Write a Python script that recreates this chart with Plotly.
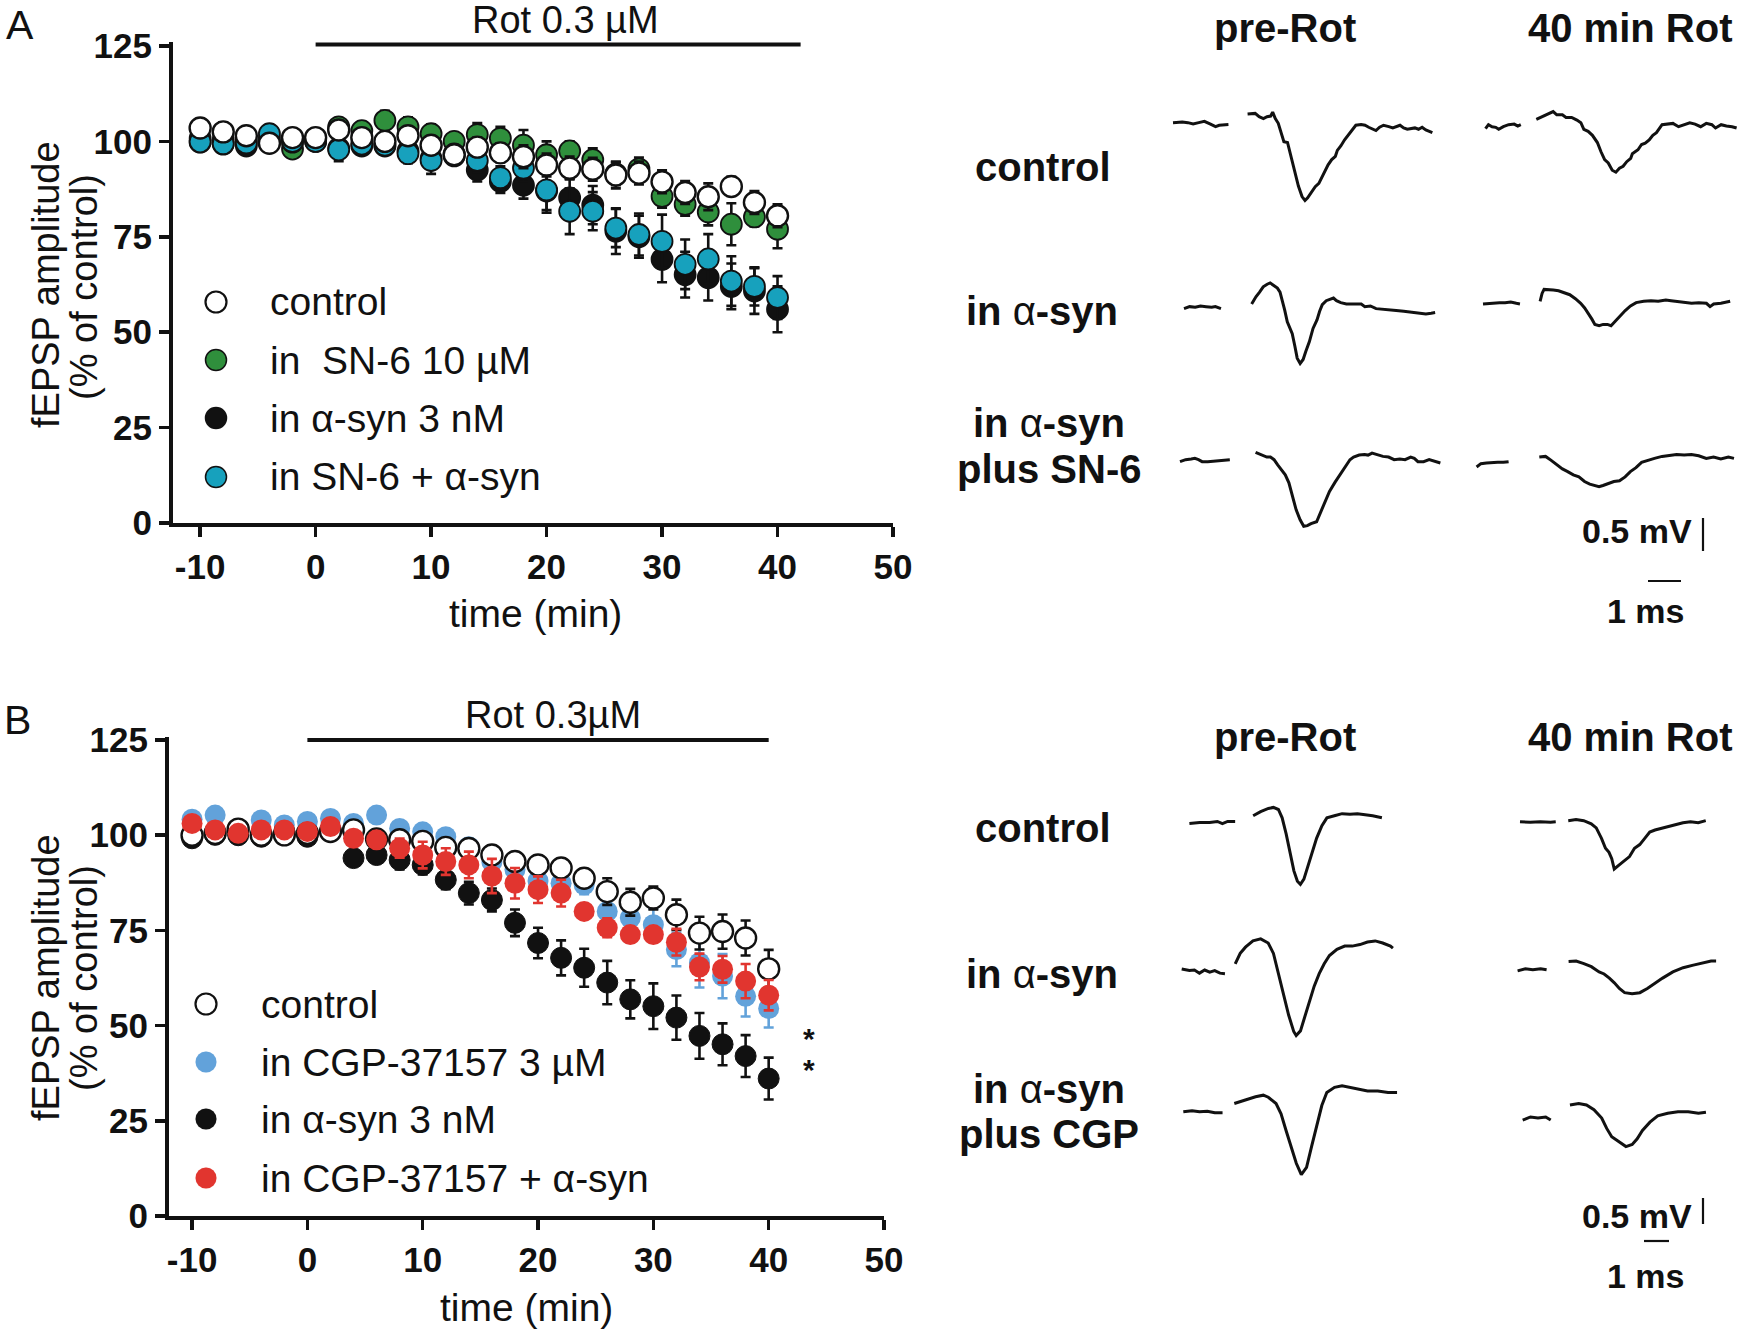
import plotly.graph_objects as go

W, H = 1738, 1330
FONT = "Liberation Sans, Arial, sans-serif"

# ---------------- time-course data ----------------
time_min = [-10, -8, -6, -4, -2, 0, 2, 4, 6, 8, 10, 12, 14, 16, 18, 20, 22, 24, 26, 28, 30, 32, 34, 36, 38, 40]

# Panel A
a_control = [103.5, 102.5, 101.5, 99.5, 101, 101, 103, 101, 100, 101.5, 99, 96.5, 98.5, 97, 96, 93.8, 93, 92.7, 91.2, 91.7, 89.4, 86.6, 85.5, 88.2, 84, 80.5]
a_control_err = [2, 2.5, 1.5, 1, 1, 1, 2, 2, 2, 2, 2, 1.5, 2.5, 2.5, 3, 3, 3, 3, 3.5, 3, 3, 3, 3.5, 2.5, 3, 3]
a_sn6 = [100.8, 100.5, 100.3, 101, 98, 100.5, 103.8, 102.8, 105.5, 103.8, 102, 100, 101.8, 100.8, 99, 96.5, 97.5, 95.2, 91.5, 92.8, 85.6, 83.5, 81.5, 78.3, 80.2, 77]
a_sn6_err = [1.5, 1.5, 1.5, 1.5, 2, 1.5, 2, 2, 2.5, 2.5, 2.5, 2, 3, 3, 4, 3.5, 2.5, 3, 3, 3, 3, 3, 3.5, 5.5, 2.5, 5]
a_asyn = [99.8, 99.3, 98.8, 100, 99.8, 100, 98.2, 98.8, 98.8, 97.5, 95.5, 96.2, 92.5, 89.5, 88.5, 87, 85.2, 83.3, 76.5, 75, 69.1, 65.1, 64.3, 62, 60.8, 56]
a_asyn_err = [1.5, 1.5, 1.5, 1, 1, 1, 2, 2, 1.5, 2, 2, 2, 3, 3, 3.5, 5, 5, 5, 6, 5.5, 6, 6, 6, 6, 6, 6]
a_sn6_asyn = [99.9, 99.4, 99.6, 102, 100, 100, 97.8, 99.3, 99, 96.8, 95, 96.7, 95, 90.5, 93, 87.3, 81.7, 81.7, 77.3, 75.6, 73.8, 67.8, 69.2, 63.4, 62, 59.1]
a_sn6_asyn_err = [1.5, 1.5, 1.5, 1.5, 1, 1, 3, 2.5, 2, 2.5, 3.5, 2, 3, 3, 3.5, 6, 6, 5, 5, 5.5, 7, 6.5, 6.5, 6.5, 5, 5.6]

# Panel B
b_control = [100, 100.5, 101.6, 100, 100.1, 100.5, 101, 101.4, 99, 98.8, 98.4, 96.8, 96.5, 94.8, 93.1, 92.2, 91.4, 88.7, 85.2, 82.4, 83.5, 79.1, 74.3, 74.7, 73, 64.9]
b_control_err = [1, 1, 1, 1, 1, 1, 1, 1.5, 1.5, 1.5, 1.5, 1.5, 2, 2, 2, 2, 2.3, 2, 3.5, 3.5, 3, 4, 4.3, 4.5, 4.6, 5]
b_cgp = [104.2, 105.3, 100, 104, 102.7, 103.6, 104.4, 103.1, 105.3, 101.8, 100.9, 99.6, 97, 93, 91, 88, 87.4, 87, 80, 78.3, 76.5, 70, 66.5, 63, 57.7, 54.5]
b_cgp_err = [1, 1, 1, 1, 1, 1, 1, 1, 1, 1.5, 1.5, 1.5, 2, 3.5, 3, 3, 3, 2.5, 3, 3, 4.3, 4.4, 6.5, 5.8, 5.3, 5]
b_asyn = [99.2, 100.1, 100, 99.6, 101, 99.6, 101, 94, 94.8, 93.5, 92.2, 88.3, 84.8, 83, 77, 71.7, 67.8, 65.2, 61.3, 56.9, 55.1, 52.1, 47.3, 45.1, 42, 36.1]
b_asyn_err = [1, 1, 1, 1, 1, 1, 1, 1.5, 1.5, 2.5, 2.5, 2.5, 3, 3, 3.5, 4, 4.6, 5, 5.7, 5, 6, 5.8, 6, 5.5, 5.5, 5.5]
b_cgp_asyn = [103.1, 101.4, 100.5, 101.4, 101.4, 101, 102.3, 99.2, 98.8, 96.6, 94.8, 93.1, 92.2, 89.3, 87.4, 85.7, 84.8, 80, 75.7, 73.9, 73.9, 71.9, 65.4, 64.8, 61.7, 58]
b_cgp_asyn_err = [1, 1, 1, 1, 1, 1, 1, 1, 1, 2.5, 3.5, 3.5, 3.5, 4.5, 4, 3.5, 3.5, 1, 2.5, 1, 1, 3.5, 3.5, 3.5, 4.5, 4]

y_ticks = [0, 25, 50, 75, 100, 125]
y_tick_text = ["0", "25", "50", "75", "100", "125"]
x_ticks = [-10, 0, 10, 20, 30, 40, 50]
x_tick_text = ["-10", "0", "10", "20", "30", "40", "50"]
rot_bar_a = [0, 42]
rot_bar_b = [0, 40]
sig_time = 43.5
sig_center = 44.7

# ---------------- example fEPSP traces (ms, mV) ----------------
# each trace: pre-artifact baseline (t1, v1) and post-artifact response (t2, v2)
A_ctrl_pre_t1 = [0, 0.28, 0.45, 0.61, 0.78, 0.95, 1.12, 1.29, 1.4, 1.57, 1.68]
A_ctrl_pre_v1 = [0.01, 0.02, 0.01, -0.01, 0.01, 0.03, -0.01, -0.05, -0.03, -0.02, -0.02]
A_ctrl_pre_t2 = [2.26, 2.49, 2.61, 2.74, 2.85, 2.96, 3.02, 3.10, 3.19, 3.30, 3.36, 3.47, 3.58, 3.69, 3.80, 3.91, 4.00, 4.08, 4.19, 4.31, 4.42, 4.53, 4.62, 4.70, 4.81, 4.92, 4.98, 5.09, 5.20, 5.31, 5.43, 5.54, 5.70, 5.82, 5.93, 6.04, 6.15, 6.26, 6.38, 6.54, 6.66, 6.88, 6.99, 7.10, 7.33, 7.44, 7.55, 7.66, 7.86]
A_ctrl_pre_v2 = [0.14, 0.15, 0.10, 0.07, 0.10, 0.11, 0.17, 0.07, 0.0, -0.20, -0.28, -0.29, -0.50, -0.73, -0.95, -1.11, -1.17, -1.13, -1.04, -0.96, -0.91, -0.80, -0.70, -0.63, -0.55, -0.50, -0.41, -0.34, -0.25, -0.18, -0.10, -0.03, -0.02, -0.03, -0.06, -0.09, -0.11, -0.06, -0.03, -0.05, -0.07, -0.03, -0.07, -0.09, -0.07, -0.09, -0.06, -0.10, -0.14]

A_ctrl_40_t1 = [0, 0.09, 0.2, 0.31, 0.40, 0.54, 0.70, 0.87, 0.98, 1.07]
A_ctrl_40_v1 = [-0.03, 0.03, 0, -0.01, -0.04, 0, 0.03, 0.04, 0.01, 0.03]
A_ctrl_40_t2 = [1.54, 1.71, 1.88, 2.05, 2.16, 2.33, 2.44, 2.61, 2.77, 2.89, 2.98, 3.11, 3.24, 3.39, 3.50, 3.61, 3.72, 3.84, 3.95, 4.06, 4.17, 4.28, 4.40, 4.45, 4.62, 4.73, 4.84, 4.96, 5.07, 5.18, 5.35, 5.51, 5.68, 5.85, 6.02, 6.19, 6.35, 6.52, 6.69, 6.86, 6.97, 7.14, 7.30, 7.47, 7.61]
A_ctrl_40_v2 = [0.11, 0.15, 0.20, 0.23, 0.18, 0.18, 0.14, 0.14, 0.10, 0.06, -0.04, -0.07, -0.13, -0.24, -0.38, -0.50, -0.55, -0.66, -0.69, -0.63, -0.60, -0.53, -0.48, -0.41, -0.35, -0.27, -0.25, -0.20, -0.13, -0.09, 0.03, 0.04, 0.05, 0, 0.03, 0.06, 0.04, 0, 0.05, 0.03, -0.02, 0.03, 0.01, 0, -0.02]

A_asyn_pre_t1 = [0, 0.17, 0.34, 0.50, 0.67, 0.84, 0.95, 1.12]
A_asyn_pre_v1 = [-0.02, 0.01, 0, 0.02, 0.01, 0, 0.01, -0.02]
A_asyn_pre_t2 = [2.05, 2.18, 2.29, 2.40, 2.52, 2.61, 2.72, 2.83, 2.91, 2.96, 3.05, 3.13, 3.21, 3.28, 3.36, 3.43, 3.52, 3.61, 3.69, 3.80, 3.91, 4.03, 4.11, 4.19, 4.31, 4.42, 4.53, 4.62, 4.75, 4.92, 5.09, 5.26, 5.37, 5.48, 5.65, 5.82, 5.98, 6.21, 6.43, 6.66, 6.88, 7.10, 7.33, 7.49, 7.61]
A_asyn_pre_v2 = [0.05, 0.16, 0.23, 0.31, 0.35, 0.37, 0.33, 0.29, 0.23, 0.14, -0.04, -0.22, -0.32, -0.40, -0.59, -0.77, -0.85, -0.79, -0.67, -0.52, -0.32, -0.19, -0.06, 0.04, 0.10, 0.12, 0.14, 0.10, 0.07, 0.05, 0.05, 0.04, 0.05, 0.01, 0.02, -0.02, -0.03, -0.04, -0.05, -0.06, -0.07, -0.08, -0.10, -0.09, -0.08]

A_asyn_40_t1 = [0, 0.17, 0.34, 0.50, 0.67, 0.84, 1.01, 1.12]
A_asyn_40_v1 = [-0.01, 0, 0, 0.01, 0.01, 0.02, 0, -0.01]
A_asyn_40_t2 = [1.73, 1.79, 1.85, 1.96, 2.13, 2.29, 2.46, 2.63, 2.80, 2.96, 3.08, 3.19, 3.30, 3.39, 3.52, 3.64, 3.77, 3.88, 3.99, 4.14, 4.31, 4.47, 4.64, 4.87, 5.09, 5.31, 5.54, 5.70, 5.87, 6.10, 6.32, 6.54, 6.77, 6.88, 6.99, 7.21, 7.49]
A_asyn_40_v2 = [0.03, 0.15, 0.21, 0.21, 0.20, 0.19, 0.16, 0.13, 0.07, 0, -0.07, -0.15, -0.24, -0.32, -0.34, -0.32, -0.32, -0.34, -0.28, -0.19, -0.11, -0.04, 0.01, 0.03, 0.04, 0.03, 0.05, 0.04, 0.03, 0.01, 0, 0.01, 0, -0.05, -0.01, 0, 0.03]

A_sn6_pre_t1 = [0, 0.17, 0.34, 0.45, 0.56, 0.67, 0.84, 1.01, 1.17, 1.34, 1.51]
A_sn6_pre_v1 = [-0.01, 0.02, 0.03, 0.04, 0.02, -0.01, -0.01, 0, 0.01, 0.02, 0.02]
A_sn6_pre_t2 = [2.29, 2.46, 2.63, 2.74, 2.85, 2.96, 3.08, 3.19, 3.30, 3.41, 3.52, 3.64, 3.75, 3.86, 3.97, 4.14, 4.25, 4.36, 4.53, 4.70, 4.87, 5.03, 5.15, 5.26, 5.43, 5.59, 5.70, 5.82, 5.98, 6.15, 6.32, 6.49, 6.66, 6.82, 6.99, 7.10, 7.21, 7.38, 7.55, 7.72, 7.89]
A_sn6_pre_v2 = [0.13, 0.09, 0.06, 0.06, 0.02, -0.06, -0.14, -0.21, -0.33, -0.54, -0.74, -0.89, -0.99, -0.98, -0.95, -0.92, -0.79, -0.64, -0.46, -0.32, -0.19, -0.06, 0.02, 0.06, 0.09, 0.10, 0.09, 0.12, 0.09, 0.07, 0.06, 0.02, 0.03, 0.02, 0.06, 0.04, -0.01, -0.01, 0.02, -0.01, -0.03]

A_sn6_40_t1 = [0, 0.13, 0.30, 0.47, 0.64, 0.81, 0.97]
A_sn6_40_v1 = [-0.03, 0.02, 0.03, 0.04, 0.04, 0.04, 0.05]
A_sn6_40_t2 = [1.90, 2.09, 2.26, 2.43, 2.60, 2.76, 2.93, 3.10, 3.27, 3.43, 3.60, 3.71, 3.83, 3.99, 4.16, 4.33, 4.50, 4.66, 4.83, 5.00, 5.17, 5.39, 5.62, 5.84, 6.06, 6.29, 6.51, 6.73, 6.96, 7.18, 7.40, 7.63, 7.80]
A_sn6_40_v2 = [0.12, 0.13, 0.07, 0, -0.06, -0.10, -0.15, -0.18, -0.25, -0.29, -0.32, -0.33, -0.31, -0.28, -0.25, -0.24, -0.18, -0.10, -0.04, 0.04, 0.07, 0.10, 0.13, 0.15, 0.16, 0.15, 0.16, 0.14, 0.10, 0.12, 0.09, 0.12, 0.10]

B_ctrl_pre_t1 = [0, 0.41, 0.81, 1.12, 1.32, 1.53, 1.63, 1.83]
B_ctrl_pre_v1 = [-0.02, 0, 0, 0.02, -0.02, 0.02, 0.02, 0.02]
B_ctrl_pre_t2 = [2.55, 2.85, 3.16, 3.36, 3.56, 3.71, 3.87, 4.03, 4.18, 4.32, 4.44, 4.58, 4.73, 4.89, 5.09, 5.30, 5.50, 5.80, 6.11, 6.42, 6.72, 7.03, 7.33, 7.70]
B_ctrl_pre_v2 = [0.13, 0.21, 0.27, 0.29, 0.25, 0.09, -0.22, -0.62, -0.93, -1.13, -1.19, -1.09, -0.85, -0.58, -0.30, -0.06, 0.09, 0.13, 0.17, 0.16, 0.17, 0.15, 0.13, 0.09]

B_ctrl_40_t1 = [0, 0.41, 0.81, 1.22, 1.43]
B_ctrl_40_v1 = [0, -0.01, 0, -0.01, 0]
B_ctrl_40_t2 = [1.93, 2.24, 2.55, 2.85, 3.05, 3.26, 3.42, 3.56, 3.67, 3.77, 3.97, 4.18, 4.38, 4.58, 4.79, 4.99, 5.19, 5.40, 5.70, 6.11, 6.52, 6.82, 7.13, 7.43]
B_ctrl_40_v2 = [0.02, 0.04, 0.02, -0.04, -0.12, -0.32, -0.51, -0.59, -0.71, -0.91, -0.83, -0.75, -0.67, -0.51, -0.44, -0.32, -0.20, -0.16, -0.12, -0.06, -0.02, 0, -0.02, 0.02]

B_asyn_pre_t1 = [0, 0.31, 0.51, 0.71, 0.92, 1.12, 1.32, 1.53, 1.73]
B_asyn_pre_v1 = [0, -0.03, -0.02, -0.08, -0.02, -0.06, -0.03, -0.08, -0.09]
B_asyn_pre_t2 = [2.14, 2.34, 2.55, 2.85, 3.16, 3.46, 3.67, 3.87, 4.07, 4.28, 4.48, 4.58, 4.75, 4.89, 5.09, 5.30, 5.50, 5.70, 5.91, 6.21, 6.52, 6.82, 7.13, 7.43, 7.74, 8.04, 8.35, 8.45]
B_asyn_pre_v2 = [0.10, 0.30, 0.42, 0.54, 0.58, 0.50, 0.30, -0.09, -0.49, -0.89, -1.20, -1.28, -1.19, -0.97, -0.65, -0.33, -0.09, 0.10, 0.26, 0.38, 0.44, 0.44, 0.47, 0.52, 0.54, 0.50, 0.44, 0.40]

B_asyn_40_t1 = [0, 0.31, 0.61, 0.92, 1.16]
B_asyn_40_v1 = [-0.02, 0.02, 0, 0.02, 0]
B_asyn_40_t2 = [2.04, 2.34, 2.65, 2.95, 3.26, 3.46, 3.67, 3.87, 4.07, 4.28, 4.58, 4.89, 5.19, 5.50, 5.80, 6.21, 6.62, 7.03, 7.43, 7.74, 7.94]
B_asyn_40_v2 = [0.16, 0.17, 0.12, 0.06, -0.04, -0.08, -0.16, -0.25, -0.36, -0.44, -0.46, -0.44, -0.36, -0.25, -0.16, -0.04, 0.04, 0.09, 0.14, 0.17, 0.17]

B_cgp_pre_t1 = [0, 0.35, 0.65, 0.96, 1.26, 1.57]
B_cgp_pre_v1 = [0, 0.02, 0, 0.01, -0.02, -0.02]
B_cgp_pre_t2 = [2.04, 2.28, 2.59, 2.89, 3.20, 3.40, 3.71, 3.91, 4.11, 4.32, 4.52, 4.72, 4.93, 5.13, 5.34, 5.54, 5.74, 6.05, 6.35, 6.66, 6.97, 7.37, 7.78, 8.19, 8.55]
B_cgp_pre_v2 = [0.16, 0.20, 0.24, 0.29, 0.32, 0.28, 0.16, -0.04, -0.36, -0.67, -0.99, -1.21, -1.07, -0.67, -0.28, 0.12, 0.37, 0.47, 0.50, 0.47, 0.44, 0.40, 0.40, 0.37, 0.37]

B_cgp_40_t1 = [0, 0.31, 0.61, 0.92, 1.12]
B_cgp_40_v1 = [-0.04, 0.02, 0, 0.02, -0.04]
B_cgp_40_t2 = [1.89, 2.24, 2.55, 2.85, 3.16, 3.36, 3.56, 3.87, 4.13, 4.38, 4.58, 4.79, 5.09, 5.40, 5.80, 6.21, 6.62, 7.03, 7.33]
B_cgp_40_v2 = [0.25, 0.28, 0.25, 0.16, 0, -0.20, -0.36, -0.47, -0.55, -0.51, -0.40, -0.24, -0.08, 0.04, 0.09, 0.12, 0.12, 0.09, 0.11]

# ---------------- styles / layout constants ----------------
C_GREEN = "#2f8f3c"
C_CYAN = "#17a1bd"
C_BLUE = "#62a2da"
C_RED = "#e1352f"
C_BLACK = "#111111"


def px_x(p):
    return p / W


def px_y(p):
    return 1 - p / H


fig = go.Figure()


def add_series(xa, ya, y, err, fill, err_color, outline, lw):
    fig.add_trace(go.Scatter(
        x=time_min, y=y, mode="markers", xaxis=xa, yaxis=ya, showlegend=False,
        cliponaxis=False,
        marker=dict(size=21, color=fill, line=dict(color=outline, width=lw)),
        error_y=dict(type="data", array=err, color=err_color, thickness=2.6, width=5),
    ))


# Panel A: draw order green, black, cyan, white
add_series("x", "y", a_sn6, a_sn6_err, C_GREEN, C_BLACK, C_BLACK, 1.8)
add_series("x", "y", a_asyn, a_asyn_err, C_BLACK, C_BLACK, C_BLACK, 1.8)
add_series("x", "y", a_sn6_asyn, a_sn6_asyn_err, C_CYAN, C_BLACK, C_BLACK, 1.8)
add_series("x", "y", a_control, a_control_err, "white", C_BLACK, C_BLACK, 2.4)

# Panel B: draw order blue, black, white, red
add_series("x2", "y2", b_cgp, b_cgp_err, C_BLUE, C_BLUE, C_BLUE, 0)
add_series("x2", "y2", b_asyn, b_asyn_err, C_BLACK, C_BLACK, C_BLACK, 1)
add_series("x2", "y2", b_control, b_control_err, "white", C_BLACK, C_BLACK, 2.4)
add_series("x2", "y2", b_cgp_asyn, b_cgp_asyn_err, C_RED, C_RED, C_RED, 0)

# ---- example traces ----
TRA = dict(left=1100, top=60, bottom=640, ms_px=33.0, mv_px=66.0)
TRB = dict(left=1100, top=700, bottom=1330, ms_px=25.0, mv_px=52.0)

A_traces = [
    (A_ctrl_pre_t1, A_ctrl_pre_v1, A_ctrl_pre_t2, A_ctrl_pre_v2, (1173, 123.3)),
    (A_ctrl_40_t1, A_ctrl_40_v1, A_ctrl_40_t2, A_ctrl_40_v2, (1485.5, 126.7)),
    (A_asyn_pre_t1, A_asyn_pre_v1, A_asyn_pre_t2, A_asyn_pre_v2, (1184, 307.3)),
    (A_asyn_40_t1, A_asyn_40_v1, A_asyn_40_t2, A_asyn_40_v2, (1483, 303.3)),
    (A_sn6_pre_t1, A_sn6_pre_v1, A_sn6_pre_t2, A_sn6_pre_v2, (1180, 461)),
    (A_sn6_40_t1, A_sn6_40_v1, A_sn6_40_t2, A_sn6_40_v2, (1476.6, 465)),
]
B_traces = [
    (B_ctrl_pre_t1, B_ctrl_pre_v1, B_ctrl_pre_t2, B_ctrl_pre_v2, (1189.4, 822.5)),
    (B_ctrl_40_t1, B_ctrl_40_v1, B_ctrl_40_t2, B_ctrl_40_v2, (1520, 821.7)),
    (B_asyn_pre_t1, B_asyn_pre_v1, B_asyn_pre_t2, B_asyn_pre_v2, (1181.7, 969)),
    (B_asyn_40_t1, B_asyn_40_v1, B_asyn_40_t2, B_asyn_40_v2, (1517.6, 969.8)),
    (B_cgp_pre_t1, B_cgp_pre_v1, B_cgp_pre_t2, B_cgp_pre_v2, (1183.3, 1111.8)),
    (B_cgp_40_t1, B_cgp_40_v1, B_cgp_40_t2, B_cgp_40_v2, (1522.7, 1118)),
]


def to_ms(px, cfg):
    return (px - cfg["left"]) / cfg["ms_px"]


def to_mv(py, cfg):
    return -(py - cfg["top"]) / cfg["mv_px"]


def add_traces(traces, cfg, xa, ya):
    for t1, v1, t2, v2, (ox, oy) in traces:
        x0, y0 = to_ms(ox, cfg), to_mv(oy, cfg)
        xs = [x0 + t for t in t1] + [None] + [x0 + t for t in t2]
        ys = [y0 + v for v in v1] + [None] + [y0 + v for v in v2]
        fig.add_trace(go.Scatter(x=xs, y=ys, mode="lines", xaxis=xa, yaxis=ya,
                                 showlegend=False, line=dict(color=C_BLACK, width=3),
                                 connectgaps=False))


add_traces(A_traces, TRA, "x3", "y3")
add_traces(B_traces, TRB, "x4", "y4")


def add_scalebar(cfg, xa, ya, vx_px, vtop_px, hy_px, hleft_px):
    vx = to_ms(vx_px, cfg)
    vt = to_mv(vtop_px, cfg)
    fig.add_trace(go.Scatter(x=[vx, vx], y=[vt, vt - 0.5], mode="lines", xaxis=xa, yaxis=ya,
                             showlegend=False, line=dict(color=C_BLACK, width=2.2)))
    hx = to_ms(hleft_px, cfg)
    hy = to_mv(hy_px, cfg)
    fig.add_trace(go.Scatter(x=[hx, hx + 1.0], y=[hy, hy], mode="lines", xaxis=xa, yaxis=ya,
                             showlegend=False, line=dict(color=C_BLACK, width=2.2)))


add_scalebar(TRA, "x3", "y3", 1703, 518, 581, 1648)
add_scalebar(TRB, "x4", "y4", 1703, 1198, 1241, 1644)

# ---- axes ----
axis_common = dict(showgrid=False, zeroline=False, showline=True, linecolor=C_BLACK, linewidth=4,
                   ticks="outside", ticklen=10, tickwidth=3.5, tickcolor=C_BLACK,
                   tickfont=dict(family=FONT, size=35, color=C_BLACK, weight="bold"),
                   fixedrange=True, automargin=False)
hidden = dict(visible=False, fixedrange=True, automargin=False, showgrid=False, zeroline=False)

fig.update_layout(
    xaxis=dict(domain=[px_x(173), px_x(893)], range=[-12.35, 50], tickvals=x_ticks,
               ticktext=x_tick_text, anchor="y", **axis_common),
    yaxis=dict(domain=[px_y(523), px_y(42)], range=[0, 126.05], tickvals=y_ticks,
               ticktext=y_tick_text, anchor="x", **axis_common),
    xaxis2=dict(domain=[px_x(169), px_x(884)], range=[-12.0, 50], tickvals=x_ticks,
                ticktext=x_tick_text, anchor="y2", **axis_common),
    yaxis2=dict(domain=[px_y(1216), px_y(737)], range=[0, 125.8], tickvals=y_ticks,
                ticktext=y_tick_text, anchor="x2", **axis_common),
    xaxis3=dict(domain=[px_x(TRA["left"]), 1], range=[0, (W - TRA["left"]) / TRA["ms_px"]],
                anchor="y3", **hidden),
    yaxis3=dict(domain=[px_y(TRA["bottom"]), px_y(TRA["top"])],
                range=[to_mv(TRA["bottom"], TRA), 0], anchor="x3", **hidden),
    xaxis4=dict(domain=[px_x(TRB["left"]), 1], range=[0, (W - TRB["left"]) / TRB["ms_px"]],
                anchor="y4", **hidden),
    yaxis4=dict(domain=[px_y(TRB["bottom"]), px_y(TRB["top"])],
                range=[to_mv(TRB["bottom"], TRB), 0], anchor="x4", **hidden),
)

# Rot bars
shapes = [
    dict(type="line", xref="x", yref="y", x0=rot_bar_a[0], x1=rot_bar_a[1], y0=125.4, y1=125.4,
         line=dict(color=C_BLACK, width=4)),
    dict(type="line", xref="x2", yref="y2", x0=rot_bar_b[0], x1=rot_bar_b[1], y0=125, y1=125,
         line=dict(color=C_BLACK, width=4)),
]

# Legend keys (manual)
legend_a = [
    ("control", "white", C_BLACK, 2.2, 302),
    ("in  SN-6 10 \u00b5M", C_GREEN, C_BLACK, 1.5, 360),
    ("in \u03b1-syn 3 nM", C_BLACK, C_BLACK, 1.5, 418),
    ("in SN-6 + \u03b1-syn", C_CYAN, C_BLACK, 1.5, 477),
]
legend_b = [
    ("control", "white", C_BLACK, 2.2, 1004),
    ("in CGP-37157 3 \u00b5M", C_BLUE, C_BLUE, 0.1, 1062),
    ("in \u03b1-syn 3 nM", C_BLACK, C_BLACK, 0.1, 1119),
    ("in CGP-37157 + \u03b1-syn", C_RED, C_RED, 0.1, 1178),
]

annotations = []


def txt(text, x, y, size, bold=False, xanchor="center", yanchor="middle", angle=0,
        xref="paper", yref="paper", yshift=0):
    annotations.append(dict(text=text, x=x, y=y, xref=xref, yref=yref, showarrow=False,
                            xanchor=xanchor, yanchor=yanchor, textangle=angle, yshift=yshift,
                            font=dict(family=FONT, size=size, color=C_BLACK,
                                      weight="bold" if bold else "normal")))


for items, mx, tx in ((legend_a, 216, 268), (legend_b, 206, 259)):
    for label, fill, edge, lw, ypx in items:
        shapes.append(dict(type="circle", xref="paper", yref="paper", xsizemode="pixel", ysizemode="pixel",
                           xanchor=px_x(mx), yanchor=px_y(ypx), x0=-10.5, x1=10.5, y0=-10.5, y1=10.5,
                           fillcolor=fill, line=dict(color=edge, width=lw)))
        txt(label, px_x(tx), px_y(ypx), 39, xanchor="left")

# Panel letters
txt("A", px_x(20), 1.0, 41, yanchor="top")
txt("B", px_x(17), px_y(720), 41)

# Rot labels
txt("Rot 0.3 \u00b5M", 21.6, 125.4, 38, xref="x", yref="y", yanchor="bottom", yshift=1)
txt("Rot 0.3\u00b5M", 21.3, 125, 38, xref="x2", yref="y2", yanchor="bottom", yshift=2)

# Axis titles
txt("time (min)", px_x(535), px_y(613), 39)
txt("time (min)", px_x(526), px_y(1307), 39)
txt("fEPSP amplitude", px_x(46), px_y(285), 38, angle=-90)
txt("(% of control)", px_x(84), px_y(287), 38, angle=-90)
txt("fEPSP amplitude", px_x(46), px_y(978), 38, angle=-90)
txt("(% of control)", px_x(84), px_y(978), 38, angle=-90)

# significance marks (two stacked asterisks)
star = "<span style='font-size:30px'>*</span>"
txt(star + "<br>" + star, sig_time, sig_center, 24, bold=True, xref="x2", yref="y2", yshift=-8)

# trace column / row labels
for ytop in (28, 737):
    txt("pre-Rot", px_x(1285), px_y(ytop), 40, bold=True)
    txt("40 min Rot", px_x(1526), px_y(ytop), 40, bold=True, xanchor="left")

alpha_syn = "in <span style='font-weight:normal'>\u03b1</span>-syn"
txt("control", px_x(1043), px_y(167), 40, bold=True)
txt(alpha_syn, px_x(1042), px_y(311), 40, bold=True)
txt(alpha_syn, px_x(1049), px_y(423), 40, bold=True)
txt("plus SN-6", px_x(1049), px_y(469), 40, bold=True)

txt("control", px_x(1043), px_y(828), 40, bold=True)
txt(alpha_syn, px_x(1042), px_y(974), 40, bold=True)
txt(alpha_syn, px_x(1049), px_y(1089), 40, bold=True)
txt("plus CGP", px_x(1049), px_y(1134), 40, bold=True)

# scale bar labels
txt("0.5 mV", px_x(1694), px_y(531), 34, bold=True, xanchor="right")
txt("1 ms", px_x(1646), px_y(611), 34, bold=True)
txt("0.5 mV", px_x(1694), px_y(1216), 34, bold=True, xanchor="right")
txt("1 ms", px_x(1646), px_y(1276), 34, bold=True)

fig.update_layout(
    width=W, height=H, autosize=False,
    margin=dict(l=0, r=0, t=0, b=0, pad=0, autoexpand=False),
    paper_bgcolor="white", plot_bgcolor="white",
    showlegend=False,
    shapes=shapes, annotations=annotations,
    font=dict(family=FONT, color=C_BLACK),
)

fig.write_html("out.html", include_plotlyjs=True, config={"displayModeBar": False, "staticPlot": True},
               post_script="document.body.style.margin='0';document.body.style.overflow='hidden';")
